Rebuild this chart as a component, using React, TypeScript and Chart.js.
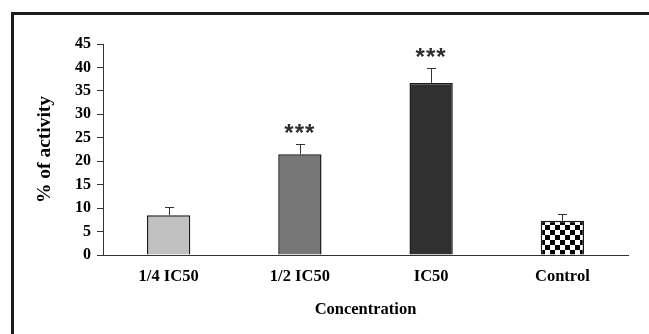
import React, { useEffect, useRef } from "react";
import { Chart, registerables } from "chart.js";

Chart.register(...registerables);

const categories = ["1/4 IC50", "1/2 IC50", "IC50", "Control"];
const values = [8.5, 21.5, 36.7, 7.3];
const errors = [1.8, 2.1, 3.2, 1.4];
const significance = ["", "***", "***", ""];
const solidColors = ["#c0c0c0", "#777777", "#303030"];
const yTicks = { min: 0, max: 45, step: 5 };
const xTitle = "Concentration";
const yTitle = "% of activity";

function makeChecker(): CanvasPattern | string {
  const c = document.createElement("canvas");
  c.width = 10;
  c.height = 10;
  const g = c.getContext("2d");
  if (!g) return "#000";
  g.fillStyle = "#ffffff";
  g.fillRect(0, 0, 10, 10);
  g.fillStyle = "#000000";
  g.fillRect(0, 0, 5, 5);
  g.fillRect(5, 5, 5, 5);
  const p = g.createPattern(c, "repeat");
  return p || "#000";
}

const framePlugin = {
  id: "frame",
  beforeDraw(chart: any) {
    const { ctx, width, height } = chart;
    ctx.save();
    ctx.fillStyle = "#ffffff";
    ctx.fillRect(0, 0, width, height);
    ctx.fillStyle = "#1c1c1c";
    ctx.fillRect(11, 12, 3, height - 12);
    ctx.fillRect(11, 12, width - 11, 3);
    ctx.restore();
  },
};

const errorPlugin = {
  id: "errorBars",
  afterDatasetsDraw(chart: any) {
    const { ctx } = chart;
    const yScale = chart.scales.y;
    const meta = chart.getDatasetMeta(0);
    ctx.save();
    meta.data.forEach((el: any, i: number) => {
      const x = el.x;
      const yv = el.y;
      const yt = yScale.getPixelForValue(values[i] + errors[i]);
      ctx.strokeStyle = "#333333";
      ctx.lineWidth = 1;
      ctx.beginPath();
      ctx.moveTo(Math.round(x) + 0.5, yv);
      ctx.lineTo(Math.round(x) + 0.5, Math.round(yt) + 0.5);
      ctx.moveTo(Math.round(x) - 4, Math.round(yt) + 0.5);
      ctx.lineTo(Math.round(x) + 5, Math.round(yt) + 0.5);
      ctx.stroke();
      const s = significance[i];
      if (s) {
        ctx.fillStyle = "#2e2e2e";
        ctx.font = "bold 24px 'Liberation Sans', Arial, sans-serif";
        ctx.textAlign = "center";
        ctx.textBaseline = "alphabetic";
        try {
          (ctx as any).letterSpacing = "1px";
        } catch (e) {}
        ctx.fillText(s, x, yt - 3);
      }
    });
    ctx.restore();
  },
};

export default function App() {
  const ref = useRef<HTMLCanvasElement | null>(null);
  useEffect(() => {
    document.body.style.margin = "0";
    const canvas = ref.current;
    if (!canvas) return;
    const checker = makeChecker();
    const colors: any[] = [...solidColors, checker];
    const serif = "'Liberation Serif', 'Times New Roman', serif";
    const chart = new Chart(canvas, {
      type: "bar",
      data: {
        labels: categories,
        datasets: [
          {
            data: values,
            backgroundColor: colors,
            borderColor: "#1a1a1a",
            borderWidth: 1.5,
            categoryPercentage: 1,
            barPercentage: 0.33,
          },
        ],
      },
      options: {
        animation: false,
        responsive: false,
        events: [],
        layout: { padding: { left: 0, top: 44, right: 21, bottom: 0 } },
        plugins: {
          legend: { display: false },
          tooltip: { enabled: false },
        },
        scales: {
          x: {
            grid: { display: false, drawTicks: false },
            border: { display: true, color: "#333333", width: 1 },
            ticks: {
              color: "#000",
              padding: 12,
              font: { family: serif, size: 16.5, weight: "bold" },
            },
            title: {
              display: true,
              text: xTitle,
              color: "#000",
              font: { family: serif, size: 16.5, weight: "bold" },
              padding: { top: 0, bottom: 14 },
            },
            afterFit: (s: any) => {
              s.height = 79;
            },
          },
          y: {
            min: yTicks.min,
            max: yTicks.max,
            grid: {
              display: true,
              drawOnChartArea: false,
              drawTicks: true,
              tickLength: 6,
              color: "#333333",
            },
            border: { display: true, color: "#333333", width: 1 },
            ticks: {
              stepSize: yTicks.step,
              color: "#000",
              padding: 6,
              font: { family: serif, size: 16, weight: "bold" },
            },
            title: {
              display: true,
              text: yTitle,
              color: "#000",
              font: { family: serif, size: 19.5, weight: "bold" },
              padding: { top: 33, bottom: 0 },
            },
            afterFit: (s: any) => {
              s.width = 103;
            },
          },
        },
      } as any,
      plugins: [framePlugin, errorPlugin],
    });
    return () => chart.destroy();
  }, []);
  return (
    <div style={{ position: "absolute", left: 0, top: 0, width: 649, height: 334 }}>
      <canvas ref={ref} width={649} height={334} style={{ display: "block" }} />
    </div>
  );
}
